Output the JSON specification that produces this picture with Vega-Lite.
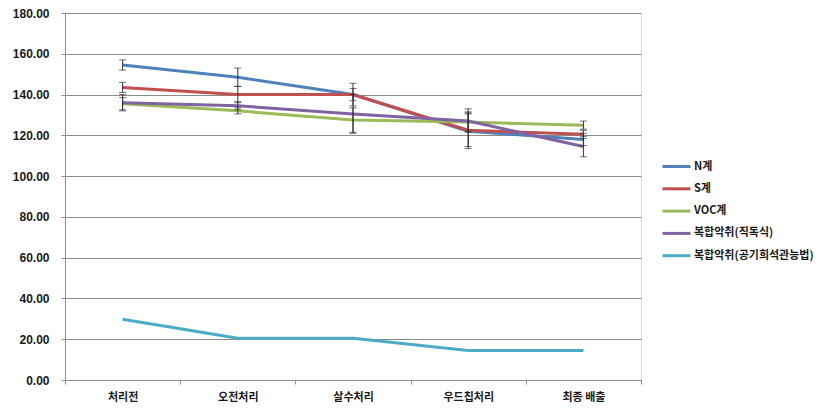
{
  "$schema": "https://vega.github.io/schema/vega-lite/v6.json",
  "width": 576,
  "height": 367,
  "autosize": {"type": "none"},
  "padding": {"left": 65, "top": 13, "right": 186, "bottom": 33},
  "background": "white",
  "data": {
    "values": [
      {"step": "처리전", "series": "N계", "value": 154.5, "lo": 152.0, "hi": 157.0},
      {"step": "처리전", "series": "S계", "value": 143.5, "lo": 141.0, "hi": 146.0},
      {"step": "처리전", "series": "VOC계", "value": 135.5, "lo": 132.5, "hi": 138.5},
      {"step": "처리전", "series": "복합악취(직독식)", "value": 136.0, "lo": 132.0, "hi": 140.0},
      {"step": "처리전", "series": "복합악취(공기희석관능법)", "value": 29.8, "lo": null, "hi": null},
      {"step": "오전처리", "series": "N계", "value": 148.5, "lo": 144.0, "hi": 153.0},
      {"step": "오전처리", "series": "S계", "value": 140.0, "lo": 136.0, "hi": 144.0},
      {"step": "오전처리", "series": "VOC계", "value": 132.0, "lo": 130.5, "hi": 133.5},
      {"step": "오전처리", "series": "복합악취(직독식)", "value": 134.5, "lo": 132.5, "hi": 136.5},
      {"step": "오전처리", "series": "복합악취(공기희석관능법)", "value": 20.5, "lo": null, "hi": null},
      {"step": "살수처리", "series": "N계", "value": 140.0, "lo": 134.5, "hi": 145.5},
      {"step": "살수처리", "series": "S계", "value": 140.0, "lo": 137.0, "hi": 143.0},
      {"step": "살수처리", "series": "VOC계", "value": 127.5, "lo": 121.5, "hi": 133.5},
      {"step": "살수처리", "series": "복합악취(직독식)", "value": 130.5, "lo": 121.0, "hi": 140.0},
      {"step": "살수처리", "series": "복합악취(공기희석관능법)", "value": 20.5, "lo": null, "hi": null},
      {"step": "우드칩처리", "series": "N계", "value": 122.0, "lo": 113.5, "hi": 131.0},
      {"step": "우드칩처리", "series": "S계", "value": 122.5, "lo": 114.5, "hi": 130.5},
      {"step": "우드칩처리", "series": "VOC계", "value": 126.5, "lo": 121.5, "hi": 131.5},
      {"step": "우드칩처리", "series": "복합악취(직독식)", "value": 127.0, "lo": 122.0, "hi": 133.0},
      {"step": "우드칩처리", "series": "복합악취(공기희석관능법)", "value": 14.5, "lo": null, "hi": null},
      {"step": "최종 배출", "series": "N계", "value": 118.0, "lo": 115.0, "hi": 121.0},
      {"step": "최종 배출", "series": "S계", "value": 120.5, "lo": 118.5, "hi": 122.5},
      {"step": "최종 배출", "series": "VOC계", "value": 125.0, "lo": 123.0, "hi": 127.0},
      {"step": "최종 배출", "series": "복합악취(직독식)", "value": 114.5, "lo": 109.5, "hi": 119.5},
      {"step": "최종 배출", "series": "복합악취(공기희석관능법)", "value": 14.5, "lo": null, "hi": null}
    ]
  },
  "encoding": {
    "x": {
      "field": "step",
      "type": "nominal",
      "sort": ["처리전", "오전처리", "살수처리", "우드칩처리", "최종 배출"],
      "scale": {"type": "band", "paddingInner": 0, "paddingOuter": 0},
      "bandPosition": 0.5,
      "axis": {
        "title": null,
        "labelAngle": 0,
        "tickBand": "extent",
        "grid": false,
        "domainColor": "#8c8c8c",
        "tickColor": "#8c8c8c",
        "tickSize": 4,
        "labelPadding": 7,
        "labelFont": "Noto Sans CJK KR",
        "labelFontWeight": "bold",
        "labelFontSize": 11,
        "labelColor": "#1a1a1a"
      }
    }
  },
  "layer": [
    {
      "mark": {"type": "line", "strokeWidth": 3},
      "encoding": {
        "y": {
          "field": "value",
          "type": "quantitative",
          "scale": {"domain": [0, 180], "nice": false},
          "axis": {
            "title": null,
            "values": [0, 20, 40, 60, 80, 100, 120, 140, 160, 180],
            "format": ".2f",
            "grid": true,
            "gridColor": "#8c8c8c",
            "gridWidth": 1,
            "domainColor": "#8c8c8c",
            "tickColor": "#8c8c8c",
            "tickSize": 4,
            "labelPadding": 12,
            "labelFont": "Liberation Sans",
            "labelFontWeight": "bold",
            "labelFontSize": 12,
            "labelColor": "#1a1a1a"
          }
        },
        "color": {
          "field": "series",
          "type": "nominal",
          "scale": {
            "domain": ["N계", "S계", "VOC계", "복합악취(직독식)", "복합악취(공기희석관능법)"],
            "range": ["#4f81bd", "#c0504d", "#9bbb59", "#8064a2", "#4bacc6"]
          },
          "legend": {
            "title": null,
            "orient": "none",
            "legendX": 596,
            "legendY": 138,
            "symbolType": "stroke",
            "symbolSize": 784,
            "symbolStrokeWidth": 3,
            "labelOffset": 2,
            "rowPadding": 0.3,
            "labelFont": "Noto Sans CJK KR",
            "labelFontWeight": "bold",
            "labelFontSize": 11,
            "labelColor": "#1a1a1a"
          }
        }
      }
    },
    {
      "transform": [{"filter": "isValid(datum.lo)"}],
      "mark": {"type": "rule", "color": "#333333", "strokeWidth": 1},
      "encoding": {
        "y": {"field": "lo", "type": "quantitative"},
        "y2": {"field": "hi"},
        "detail": {"field": "series"}
      }
    },
    {
      "transform": [{"filter": "isValid(datum.lo)"}],
      "mark": {"type": "tick", "color": "#333333", "thickness": 1, "size": 7},
      "encoding": {
        "y": {"field": "lo", "type": "quantitative"},
        "detail": {"field": "series"}
      }
    },
    {
      "transform": [{"filter": "isValid(datum.lo)"}],
      "mark": {"type": "tick", "color": "#333333", "thickness": 1, "size": 7},
      "encoding": {
        "y": {"field": "hi", "type": "quantitative"},
        "detail": {"field": "series"}
      }
    }
  ]
}
